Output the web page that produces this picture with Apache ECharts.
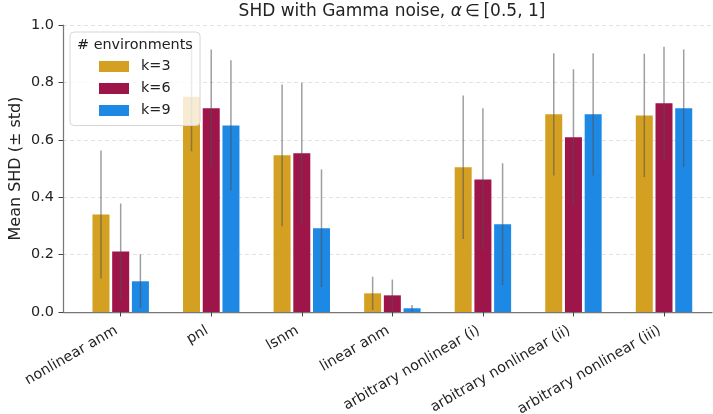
<!DOCTYPE html>
<html>
<head>
<meta charset="utf-8">
<script src="https://cdn.jsdelivr.net/npm/echarts@6/dist/echarts.min.js"></script>
<style>html,body{margin:0;padding:0;background:#fff}#c{width:713px;height:414px}</style>
</head>
<body>
<div id="c"></div>
<script>
const categories = ['nonlinear anm', 'pnl', 'lsnm', 'linear anm', 'arbitrary nonlinear (i)', 'arbitrary nonlinear (ii)', 'arbitrary nonlinear (iii)'];
const seriesNames = ['k=3', 'k=6', 'k=9'];
const mean_k3 = [0.340, 0.750, 0.546, 0.065, 0.504, 0.689, 0.685];
const mean_k6 = [0.211, 0.710, 0.553, 0.058, 0.462, 0.609, 0.727];
const mean_k9 = [0.107, 0.650, 0.292, 0.013, 0.306, 0.689, 0.710];
const std_k3 = [0.223, 0.19, 0.247, 0.058, 0.250, 0.213, 0.215];
const std_k6 = [0.167, 0.205, 0.246, 0.055, 0.248, 0.237, 0.197];
const std_k9 = [0.094, 0.227, 0.205, 0.011, 0.212, 0.213, 0.205];
const yTicks = [0.0, 0.2, 0.4, 0.6, 0.8, 1.0];

const colors = ['#D4A021', '#9E154A', '#1E88E5'];
const means = [mean_k3, mean_k6, mean_k9];
const stds = [std_k3, std_k6, std_k9];
const FONT = 'DejaVu Sans';
const BAR_W = 17, BAR_STEP = 19.7;
const tickIdx = categories.map((c, i) => i);

const series = [];
means.forEach((m, s) => {
  series.push({
    name: seriesNames[s], type: 'bar', barWidth: BAR_W, barGap: '16%',
    itemStyle: { color: colors[s] }, z: 2,
    data: m.map((v, i) => [i, v])
  });
});
means.forEach((m, s) => {
  series.push({
    type: 'custom', z: 3, silent: true,
    data: m.map((v, i) => [i, v - stds[s][i], v + stds[s][i]]),
    renderItem: function (params, api) {
      const off = (s - 1) * BAR_STEP;
      const p1 = api.coord([api.value(0), api.value(1)]);
      const p2 = api.coord([api.value(0), api.value(2)]);
      return { type: 'line', shape: { x1: p1[0] + off, y1: p1[1], x2: p2[0] + off, y2: p2[1] },
        style: { stroke: 'rgba(80,80,80,0.55)', lineWidth: 1.5 } };
    }
  });
});

const chart = echarts.init(document.getElementById('c'), null, { renderer: 'canvas' });
chart.setOption({
  animation: false,
  textStyle: { fontFamily: FONT },
  title: [{
    text: 'SHD with Gamma noise, {i|α}\u2009∈\u2009[0.5, 1]', left: 392, top: 3, padding: 0, textAlign: 'center',
    textStyle: { fontFamily: FONT, fontSize: 17, fontWeight: 'normal', color: '#222',
      rich: { i: { fontFamily: FONT, fontSize: 17, fontStyle: 'italic', color: '#222' } } }
  }, {
    text: '# environments', left: 77, top: 38.5, padding: 0, z: 20,
    textStyle: { fontFamily: FONT, fontSize: 14.4, fontWeight: 'normal', color: '#222' }
  }],
  legend: {
    data: seriesNames, orient: 'vertical', left: 70, top: 32, z: 15,
    padding: [27.5, 29.5, 8, 29], itemGap: 8, itemWidth: 30, itemHeight: 11,
    backgroundColor: 'rgba(255,255,255,0.8)', borderColor: '#d6d6d6', borderWidth: 1, borderRadius: 4,
    icon: 'rect', itemStyle: { borderWidth: 0 },
    textStyle: { fontFamily: FONT, fontSize: 14.4, color: '#222', padding: [0, 0, 0, 7] }
  },
  grid: { left: 63, right: 1, top: 25, bottom: 102, containLabel: false, outerBoundsMode: 'none' },
  xAxis: {
    type: 'value', min: -0.637, max: 6.53,
    axisLine: { show: true, onZero: false, lineStyle: { color: '#777', width: 1.25 } },
    axisTick: { show: true, customValues: tickIdx, length: 4.5, lineStyle: { color: '#444' } },
    axisLabel: { customValues: tickIdx, rotate: 30, fontSize: 14.4, color: '#222', margin: 15,
      padding: [0, 4.8, 0, 0], fontFamily: FONT, formatter: v => categories[Math.round(v)] || '' },
    splitLine: { show: false }
  },
  yAxis: {
    type: 'value', min: 0, max: 1, interval: 0.2,
    name: 'Mean SHD (± std)', nameLocation: 'middle', nameGap: 39, nameMoveOverlap: false,
    nameTextStyle: { fontFamily: FONT, fontSize: 16, color: '#222' },
    axisLine: { show: true, onZero: false, lineStyle: { color: '#777', width: 1.25 } },
    axisTick: { show: true, length: 4.5, lineStyle: { color: '#444' } },
    axisLabel: { fontSize: 14.4, color: '#222', margin: 9, fontFamily: FONT,
      formatter: v => { const t = yTicks.find(x => Math.abs(x - v) < 1e-9); return (t !== undefined ? t : v).toFixed(1); } },
    splitLine: { show: true, lineStyle: { color: '#e2e2e2', type: [4, 3], width: 1 } }
  },
  series: series
});
</script>
</body>
</html>
